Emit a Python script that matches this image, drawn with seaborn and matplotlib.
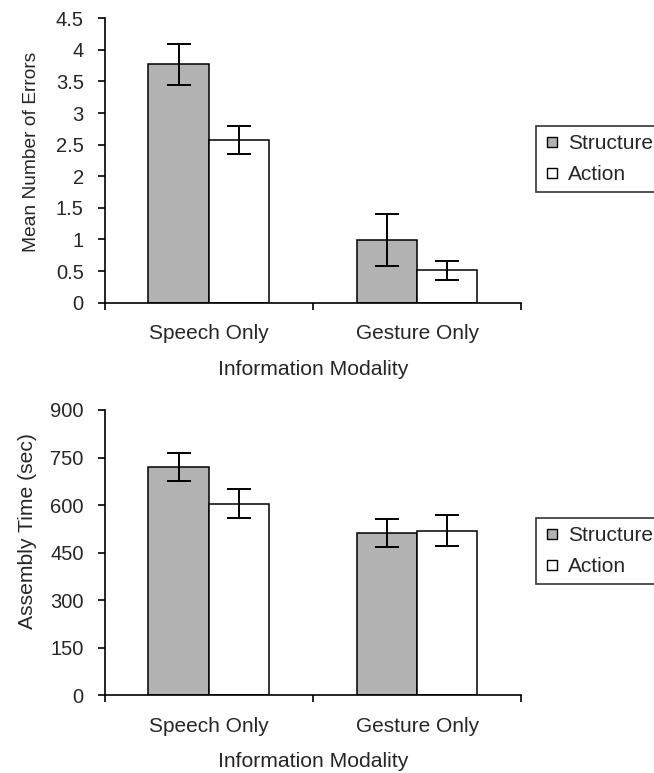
import matplotlib
matplotlib.use('Agg')
import matplotlib.pyplot as plt
from matplotlib.lines import Line2D
import seaborn as sns
import pandas as pd

# Data
modalities = ['Speech Only', 'Gesture Only']
conditions = ['Structure', 'Action']

errors_structure = [3.77, 0.99]
errors_action = [2.58, 0.51]
errors_structure_se = [0.32, 0.41]
errors_action_se = [0.22, 0.15]

time_structure = [721, 512]
time_action = [604, 518]
time_structure_se = [44, 44]
time_action_se = [46, 49]

y_ticks_errors = [0, 0.5, 1, 1.5, 2, 2.5, 3, 3.5, 4, 4.5]
y_ticks_time = [0, 150, 300, 450, 600, 750, 900]

palette = {'Structure': '#b2b2b2', 'Action': 'white'}

sns.set_style('white')
plt.rcParams['font.family'] = ['Liberation Sans', 'DejaVu Sans']
fs_tick = 14.5
fs_label = 15.2


def long_table(structure, action):
    rows = []
    for m, s, a in zip(modalities, structure, action):
        rows.append({'Modality': m, 'Instruction': 'Structure', 'Value': s})
        rows.append({'Modality': m, 'Instruction': 'Action', 'Value': a})
    return pd.DataFrame(rows)


def draw_panel(ax, df, se, ylabel, yticks, ylim, ylabel_fs, ylabel_pos):
    sns.barplot(data=df, x='Modality', y='Value', hue='Instruction',
                order=modalities, hue_order=conditions, palette=palette,
                edgecolor='black', linewidth=1.1, width=0.58,
                errorbar=None, legend=False, ax=ax)
    # error bars on top of the seaborn bars
    for container, errs in zip(ax.containers, se):
        xs = [b.get_x() + b.get_width() / 2 for b in container]
        hs = [b.get_height() for b in container]
        ax.errorbar(xs, hs, yerr=errs, fmt='none', ecolor='black',
                    elinewidth=1.4, capsize=8.5, capthick=1.4, zorder=5)

    ax.set_xlim(-0.5, 1.5)
    ax.set_ylim(*ylim)
    ax.set_yticks(yticks)
    ax.set_yticklabels([f'{t:g}' for t in yticks], fontsize=fs_tick)
    ax.set_xticks([0, 1])
    ax.set_xticklabels(modalities, fontsize=15)
    ax.set_xticks([-0.5, 0.5, 1.5], minor=True)
    ax.tick_params(axis='x', which='major', length=0, pad=15.5)
    ax.tick_params(axis='x', which='minor', length=5, width=1.2,
                   direction='out', color='black', bottom=True)
    ax.tick_params(axis='y', length=5, width=1.2, direction='out',
                   color='black', left=True, pad=10)
    ax.set_xlabel('Information Modality', fontsize=fs_label, labelpad=12)
    ax.set_ylabel(ylabel, fontsize=ylabel_fs)
    ax.yaxis.set_label_coords(*ylabel_pos)
    sns.despine(ax=ax)
    for side in ['left', 'bottom']:
        ax.spines[side].set_color('black')
        ax.spines[side].set_linewidth(1.2)


fig = plt.figure(figsize=(6.54, 7.73), dpi=100)
ax1 = fig.add_axes([0.160, 0.6084, 0.637, 0.368])
ax2 = fig.add_axes([0.160, 0.1009, 0.637, 0.3687])

draw_panel(ax1, long_table(errors_structure, errors_action),
           [errors_structure_se, errors_action_se],
           'Mean Number of Errors', y_ticks_errors, (0, 4.5), 13.8, (-0.155, 0.53))
draw_panel(ax2, long_table(time_structure, time_action),
           [time_structure_se, time_action_se],
           'Assembly Time (sec)', y_ticks_time, (0, 900), 15.2, (-0.162, 0.575))

handles = [Line2D([], [], marker='s', linestyle='none', markersize=7,
                  markerfacecolor=palette[c], markeredgecolor='black',
                  markeredgewidth=1.0) for c in conditions]

for top in [1 - 126 / 773, 1 - 518 / 773]:
    leg = fig.legend(handles, conditions, loc='upper left',
                     bbox_to_anchor=(535.7 / 654, top), fontsize=15,
                     frameon=True, fancybox=False, handlelength=0.8,
                     handletextpad=0.36, borderpad=0.38, labelspacing=0.6,
                     borderaxespad=0)
    leg.get_frame().set_edgecolor('black')
    leg.get_frame().set_linewidth(1.2)

plt.savefig('out.png', dpi=100)
